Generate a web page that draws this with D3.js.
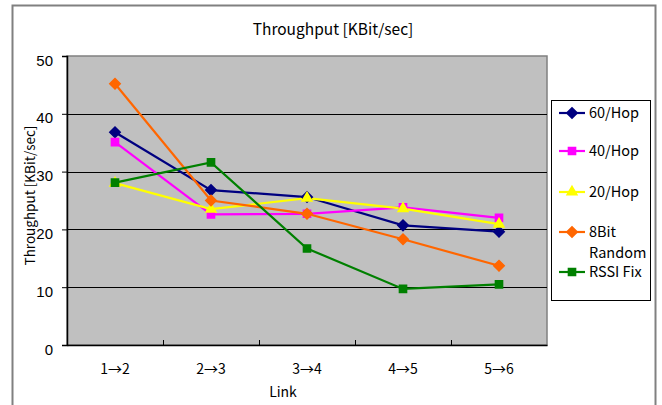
<!DOCTYPE html>
<html>
<head>
<meta charset="utf-8">
<script src="https://cdn.jsdelivr.net/npm/d3@7"></script>
<style>
body { margin: 0; background: #fff; }
text { font-family: "Noto Sans CJK JP", "DejaVu Sans", sans-serif; font-size: 14px; fill: #000; }
</style>
</head>
<body>
<script>
let links = ['1\u21922', '2\u21923', '3\u21924', '4\u21925', '5\u21926'];
let yTicks = [0, 10, 20, 30, 40, 50];
let seriesNames = ['60/Hop', '40/Hop', '20/Hop', '8Bit Random', 'RSSI Fix'];
let hop60 = [36.8, 26.8, 25.6, 20.7, 19.6];
let hop40 = [35.1, 22.6, 22.7, 23.8, 22.0];
let hop20 = [28.0, 23.5, 25.4, 23.6, 20.9];
let random8 = [45.2, 25.0, 22.7, 18.3, 13.7];
let rssiFix = [28.1, 31.6, 16.7, 9.7, 10.5];

let series = [
    {name: seriesNames[0], values: hop60, color: '#000080', shape: 'diamond'},
    {name: seriesNames[1], values: hop40, color: '#FF00FF', shape: 'square'},
    {name: seriesNames[2], values: hop20, color: '#FFFF00', shape: 'triangle'},
    {name: seriesNames[3], values: random8, color: '#FF6600', shape: 'diamond'},
    {name: seriesNames[4], values: rssiFix, color: '#008000', shape: 'square'}
];

let W = 662, H = 405;
let plot = {left: 67, top: 56, right: 547, bottom: 345};

let svg = d3.select('body').append('svg')
    .attr('width', W)
    .attr('height', H);

// outer chart border
svg.append('rect')
    .attr('x', 12.5).attr('y', 5.5)
    .attr('width', 643).attr('height', 410)
    .attr('fill', '#fff').attr('stroke', '#808080').attr('stroke-width', 2);

let x = d3.scaleBand().domain(links).range([plot.left, plot.right]);
let y = d3.scaleLinear().domain([0, 50]).range([plot.bottom, plot.top]);

svg.append('rect')
    .attr('x', plot.left).attr('y', plot.top)
    .attr('width', plot.right - plot.left).attr('height', plot.bottom - plot.top)
    .attr('fill', '#C0C0C0').attr('stroke', '#808080').attr('stroke-width', 1.5);

// gridlines
svg.append('g').selectAll('line').data(yTicks.slice(1, -1)).enter().append('line')
    .attr('x1', plot.left).attr('x2', plot.right)
    .attr('y1', d => Math.round(y(d)) + 0.5).attr('y2', d => Math.round(y(d)) + 0.5)
    .attr('stroke', '#000').attr('stroke-width', 1);

// y axis
let yAxis = svg.append('g')
    .attr('transform', `translate(${plot.left},0)`)
    .call(d3.axisLeft(y).tickValues(yTicks).tickSize(5).tickPadding(9));
yAxis.select('.domain').attr('stroke', '#000').attr('stroke-width', 1.5);
yAxis.selectAll('.tick line').attr('stroke', '#000');
yAxis.selectAll('text').style('font-size', '15px').style('font-family', 'Liberation Sans, Arial, sans-serif').attr('dy', '0.6em');

// x axis
let xAxis = svg.append('g')
    .attr('transform', `translate(0,${plot.bottom})`)
    .call(d3.axisBottom(x).tickSize(0).tickPadding(18));
xAxis.select('.domain').attr('stroke', '#000').attr('stroke-width', 1.5);
xAxis.selectAll('text').style('font-size', '14px').attr('dy', '0.8em');
svg.append('g').selectAll('line').data(links.slice(1)).enter().append('line')
    .attr('x1', d => x(d) + 0.5).attr('x2', d => x(d) + 0.5)
    .attr('y1', plot.bottom).attr('y2', plot.bottom - 5)
    .attr('stroke', '#000');

// titles
svg.append('text').attr('x', 333).attr('y', 35).attr('text-anchor', 'middle')
    .style('font-size', '15.5px')
    .text('Throughput [KBit/sec]');
svg.append('text').attr('x', 283).attr('y', 397).attr('text-anchor', 'middle')
    .text('Link');
svg.append('text')
    .attr('transform', `translate(35,${(plot.top + plot.bottom) / 2 - 5}) rotate(-90)`)
    .attr('text-anchor', 'middle')
    .style('font-size', '13.5px')
    .text('Throughput [KBit/sec]');

let symbolFor = {
    diamond: d3.symbol().type(d3.symbolDiamond2).size(70),
    square: d3.symbol().type(d3.symbolSquare2).size(65),
    triangle: d3.symbol().type(d3.symbolTriangle2).size(70)
};

let line = d3.line()
    .x((d, i) => x(links[i]) + x.bandwidth() / 2)
    .y(d => y(d));

let g = svg.append('g');
series.forEach(s => {
    g.append('path').attr('d', line(s.values))
        .attr('fill', 'none').attr('stroke', s.color).attr('stroke-width', 2.2);
});
series.forEach(s => {
    g.selectAll(null).data(s.values).enter().append('path')
        .attr('d', symbolFor[s.shape])
        .attr('transform', (d, i) => `translate(${x(links[i]) + x.bandwidth() / 2},${y(d)})`)
        .attr('fill', s.color)
        .attr('stroke', s.color).attr('stroke-width', 1.5).attr('stroke-linejoin', 'miter');
});

// legend
let legend = svg.append('g');
legend.append('rect')
    .attr('x', 551.5).attr('y', 100.5).attr('width', 99).attr('height', 200)
    .attr('fill', '#fff').attr('stroke', '#000');
let legendY = [113, 151, 192, 232, 272];
series.forEach((s, i) => {
    let ly = legendY[i];
    legend.append('line').attr('x1', 559).attr('x2', 585).attr('y1', ly).attr('y2', ly)
        .attr('stroke', s.color).attr('stroke-width', 2.2);
    legend.append('path').attr('d', symbolFor[s.shape])
        .attr('transform', `translate(572,${ly})`)
        .attr('fill', s.color).attr('stroke', s.color).attr('stroke-width', 1.5);
    let words = s.name === '8Bit Random' ? ['8Bit', 'Random'] : [s.name];
    words.forEach((w, k) => {
        legend.append('text').attr('x', 589).attr('y', ly + 5 + k * 21)
            .style('font-size', '14.5px').text(w);
    });
});
</script>
</body>
</html>
